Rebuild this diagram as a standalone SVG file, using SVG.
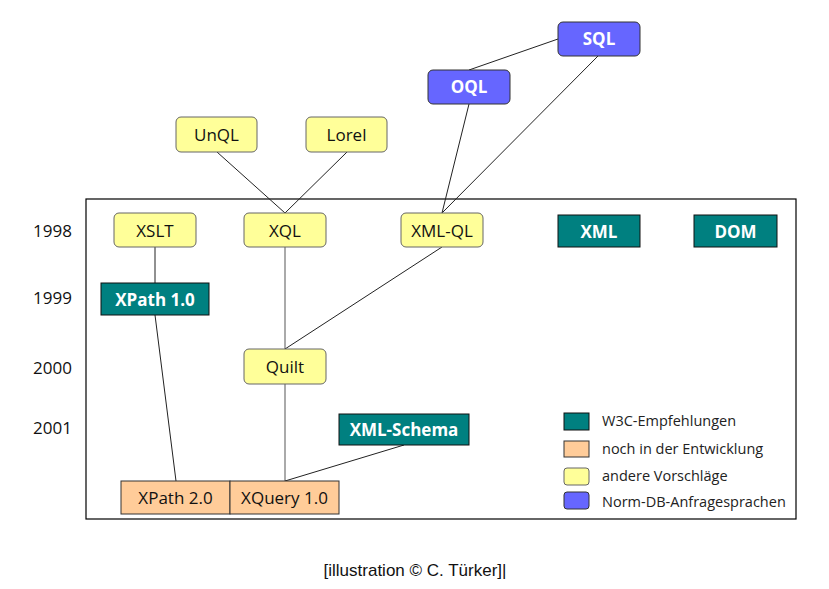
<svg xmlns="http://www.w3.org/2000/svg" width="829" height="589" viewBox="0 0 829 589">
<style>
.y{fill:#ffff99;stroke:#666;stroke-width:1}
.b{fill:#6666ff;stroke:#333;stroke-width:1}
.t{fill:#008080;stroke:#111;stroke-width:1}
.o{fill:#ffcc99;stroke:#333;stroke-width:1}
.lbl{font-family:"Open Sans","Noto Sans",sans-serif;font-size:17px;text-anchor:middle;fill:#111}
.w{font-family:"Open Sans","Noto Sans",sans-serif;font-size:17px;font-weight:bold;text-anchor:middle;fill:#fff}
.yr{font-family:"Open Sans","Noto Sans",sans-serif;font-size:17px;fill:#111}
.lg{font-family:"Open Sans","Noto Sans",sans-serif;font-size:14.5px;fill:#222}
.c{stroke:#222;stroke-width:1;fill:none}
.g{stroke:#aaa;stroke-width:2;fill:none}
</style>
<rect width="829" height="589" fill="#fff"/>
<rect x="86" y="199" width="710" height="320" fill="none" stroke="#000" stroke-width="1.2"/>
<g id="years">
<text class="yr" x="33" y="237">1998</text>
<text class="yr" x="33" y="304">1999</text>
<text class="yr" x="33" y="374">2000</text>
<text class="yr" x="33" y="434">2001</text>
</g>
<g id="connectors">
<line class="c" x1="558" y1="39" x2="469" y2="70"/>
<line class="c" x1="469" y1="104" x2="442" y2="213"/>
<line class="c" x1="598" y1="56" x2="442" y2="213"/>
<line class="c" x1="217" y1="152" x2="285" y2="213"/>
<line class="c" x1="347" y1="152" x2="285" y2="213"/>
<line class="c" x1="155" y1="247" x2="155" y2="283"/>
<line class="g" x1="285" y1="247" x2="285" y2="349"/>
<line class="c" x1="442" y1="247" x2="285" y2="349"/>
<line class="g" x1="285" y1="384" x2="285" y2="481"/>
<line class="c" x1="155" y1="315" x2="176" y2="481"/>
<line class="c" x1="404" y1="445" x2="285" y2="481"/>
</g>
<g id="SQL"><rect class="b" x="558" y="22" width="82" height="34" rx="5"/><text class="w" x="599" y="45">SQL</text></g>
<g id="OQL"><rect class="b" x="428" y="70" width="82" height="34" rx="5"/><text class="w" x="469" y="93">OQL</text></g>
<g id="UnQL"><rect class="y" x="176" y="117" width="81" height="35" rx="5"/><text class="lbl" x="216.5" y="141">UnQL</text></g>
<g id="Lorel"><rect class="y" x="306" y="117" width="81" height="35" rx="5"/><text class="lbl" x="346.5" y="141">Lorel</text></g>
<g id="XSLT"><rect class="y" x="114" y="213" width="82" height="34" rx="5"/><text class="lbl" x="155" y="237">XSLT</text></g>
<g id="XQL"><rect class="y" x="244" y="213" width="82" height="34" rx="5"/><text class="lbl" x="285" y="237">XQL</text></g>
<g id="XML-QL"><rect class="y" x="401" y="213" width="82" height="34" rx="5"/><text class="lbl" x="442" y="237">XML-QL</text></g>
<g id="XML"><rect class="t" x="558" y="215" width="82" height="32"/><text class="w" x="599" y="238">XML</text></g>
<g id="DOM"><rect class="t" x="694" y="215" width="83" height="32"/><text class="w" x="735.5" y="238">DOM</text></g>
<g id="XPath1"><rect class="t" x="101" y="283" width="108" height="32"/><text class="w" x="155" y="306">XPath 1.0</text></g>
<g id="Quilt"><rect class="y" x="244" y="349" width="82" height="35" rx="5"/><text class="lbl" x="285" y="373">Quilt</text></g>
<g id="XML-Schema"><rect class="t" x="339" y="414" width="130" height="31"/><text class="w" x="404" y="436">XML-Schema</text></g>
<g id="XPath2"><rect class="o" x="121" y="481" width="109" height="33"/><text class="lbl" x="175.5" y="504">XPath 2.0</text></g>
<g id="XQuery"><rect class="o" x="230" y="481" width="109" height="33"/><text class="lbl" x="284.5" y="504">XQuery 1.0</text></g>
<g id="legend">
<rect class="t" x="564" y="413" width="25" height="17"/>
<rect class="o" x="564" y="441" width="25" height="16"/>
<rect class="y" x="564" y="468" width="25" height="17" rx="3"/>
<rect class="b" x="564" y="492" width="25" height="17" rx="3"/>
<text class="lg" x="602" y="426">W3C-Empfehlungen</text>
<text class="lg" x="602" y="454">noch in der Entwicklung</text>
<text class="lg" x="602" y="481">andere Vorschläge</text>
<text class="lg" x="602" y="507">Norm-DB-Anfragesprachen</text>
</g>
<text x="415" y="576" text-anchor="middle" font-family="Liberation Sans, sans-serif" font-size="17" fill="#111">[illustration © C. Türker]|</text>
</svg>
